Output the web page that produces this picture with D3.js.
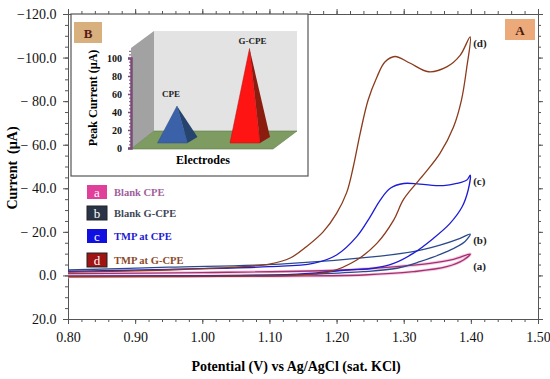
<!DOCTYPE html>
<html>
<head>
<meta charset="utf-8">
<script src="https://cdn.jsdelivr.net/npm/d3@7"></script>
<style>
  body { margin: 0; background: #fff; }
  svg { display: block; font-family: "Liberation Serif", "Times New Roman", serif; }
  svg g, svg text { font-family: "Liberation Serif", "Times New Roman", serif; }
</style>
</head>
<body>
<div id="chart"></div>
<script>
// cyclic voltammograms, [potential V, current uA], forward scan then reverse
const curveA = [[0.80,-0.8],[1.00,-1.3],[1.215,-2.5],[1.29,-4.0],[1.339,-5.5],[1.374,-7.4],[1.399,-9.8],
  [1.389,-7.1],[1.364,-4.0],[1.314,-1.7],[1.24,-0.2],[1.116,0.3],[0.80,0.6]];
const curveB = [[0.80,-2.5],[0.95,-3.8],[1.116,-5.2],[1.265,-8.9],[1.314,-10.9],[1.354,-13.9],[1.384,-17.0],[1.399,-19.0],
  [1.391,-15.5],[1.364,-10.9],[1.324,-6.3],[1.29,-3.3],[1.24,-1.7],[1.165,-0.6],[1.116,-0.2],[1.00,0.1],[0.80,0.3]];
const curveC = [[0.80,-1.8],[0.95,-2.8],[1.10,-4.0],[1.165,-5.5],[1.20,-9.4],[1.23,-17.8],[1.25,-26.9],[1.265,-34.6],
  [1.28,-40.0],[1.30,-42.2],[1.324,-41.9],[1.359,-41.2],[1.379,-42.2],[1.394,-43.8],[1.399,-46.0],
  [1.396,-39.2],[1.387,-31.5],[1.369,-23.9],[1.344,-17.0],[1.314,-10.1],[1.285,-5.5],[1.255,-3.3],[1.215,-2.5],
  [1.165,-1.0],[1.116,-0.2],[1.00,0.2],[0.80,0.4]];
const curveD = [[0.80,-1.5],[0.95,-2.5],[1.05,-3.8],[1.10,-5.2],[1.131,-8.0],[1.155,-13.2],[1.18,-20.0],[1.20,-28.5],
  [1.215,-38.0],[1.225,-50.0],[1.235,-65.0],[1.247,-80.5],[1.26,-91.0],[1.272,-98.0],[1.287,-100.5],[1.309,-97.5],
  [1.337,-93.5],[1.364,-95.7],[1.384,-101.0],[1.399,-109.5],
  [1.394,-95.7],[1.386,-80.5],[1.374,-68.0],[1.354,-56.0],[1.329,-46.0],[1.30,-35.0],[1.285,-25.4],[1.26,-14.7],
  [1.23,-7.1],[1.19,-1.7],[1.14,-0.2],[1.00,0.3],[0.80,0.5]];

const curveKeys = ["a", "b", "c", "d"];
const curveNames = ["Blank CPE", "Blank G-CPE", "TMP at CPE", "TMP at G-CPE"];
const xTicks = [0.80, 0.90, 1.00, 1.10, 1.20, 1.30, 1.40, 1.50];
const yTicks = [-120, -100, -80, -60, -40, -20, 0, 20];

// inset B
const electrodes = ["CPE", "G-CPE"];
const peakCurrent = [41, 105];
const insetTicks = [0, 20, 40, 60, 80, 100];

const curves = [curveA, curveB, curveC, curveD];
const lineColors = ["#a3306f", "#2c4a8a", "#1c1cd6", "#8b3a1c"];
const boxColors = ["#e0409a", "#2a3448", "#1010e0", "#a01414"];
const textColors = ["#a0609a", "#404656", "#2020d0", "#8a4a2a"];

const W = 550, H = 379;
const serif = '"Liberation Serif", "Times New Roman", serif';
const svg = d3.select("#chart").append("svg").attr("width", W).attr("height", H);

const x = d3.scaleLinear().domain([0.8, 1.5]).range([68, 538]);
const y = d3.scaleLinear().domain([-120, 20]).range([14, 319]);

const axisColor = "#555";

function drawAxis(gen, tr, major, minor, labels) {
  const gMin = svg.append("g").attr("transform", tr)
    .call(gen(major.scale).tickValues(minor).tickSize(3).tickFormat(""));
  gMin.select(".domain").remove();
  const g = svg.append("g").attr("transform", tr)
    .call(gen(major.scale).tickValues(major.values).tickSize(5).tickFormat(labels || ""));
  g.attr("font-family", serif);
  g.selectAll("line, path").attr("stroke", axisColor);
  gMin.selectAll("line").attr("stroke", axisColor);
  g.selectAll("text").attr("font-family", serif).attr("font-size", 14).attr("fill", "#111");
  return g;
}

const xMinor = d3.range(0.8, 1.5001, 0.02);
const yMinor = d3.range(-120, 20.001, 5);

const gx = drawAxis(d3.axisBottom, "translate(0,319)", {scale: x, values: xTicks}, xMinor, d => d.toFixed(2));
gx.selectAll("text").attr("dy", "1.05em");
drawAxis(d3.axisTop, "translate(0,14)", {scale: x, values: xTicks}, xMinor, null);
const gy = drawAxis(d3.axisLeft, "translate(68,0)", {scale: y, values: yTicks}, yMinor, d => {
  if (d < 0) return (d <= -100 ? "\u2212" : "\u2212 ") + Math.abs(d).toFixed(1);
  return d.toFixed(1);
});
gy.selectAll("text").attr("dx", "-0.25em");
drawAxis(d3.axisRight, "translate(538,0)", {scale: y, values: yTicks}, yMinor, null);

// axis titles
svg.append("text").attr("x", 296).attr("y", 371).attr("text-anchor", "middle")
  .attr("font-size", 14).attr("font-weight", "bold").text("Potential (V) vs Ag/AgCl (sat. KCl)");
svg.append("text").attr("transform", "translate(17,168) rotate(-90)").attr("text-anchor", "middle")
  .attr("font-size", 14).attr("font-weight", "bold").attr("xml:space", "preserve").text("Current  (\u00b5A)");

// curves
const line = d3.line().x(d => x(d[0])).y(d => y(d[1])).curve(d3.curveCatmullRom.alpha(0.5));
svg.append("path").datum(curveA).attr("d", line).attr("fill", "none")
  .attr("stroke", "#f6cde6").attr("stroke-width", 3.2);
curves.forEach((c, i) => {
  svg.append("path").datum(c).attr("d", line).attr("fill", "none")
    .attr("stroke", lineColors[i]).attr("stroke-width", 1.3);
});

// curve labels at the vertex
curves.forEach((c, i) => {
  const v = c.reduce((m, p) => p[0] > m[0] ? p : m);
  const off = [8, 2, 2, 2][i];
  svg.append("text").attr("x", x(v[0]) + 3).attr("y", y(v[1]) + off + 8)
    .attr("font-size", 11).attr("font-weight", "bold").attr("fill", "#222")
    .text("(" + curveKeys[i] + ")");
});

// legend
const legY = [185, 206, 229, 253];
curveKeys.forEach((k, i) => {
  svg.append("rect").attr("x", 87).attr("y", legY[i]).attr("width", 20).attr("height", 14)
    .attr("fill", boxColors[i]).attr("stroke", i === 1 || i === 3 ? "#222" : "none");
  svg.append("text").attr("x", 97).attr("y", legY[i] + 11.5).attr("text-anchor", "middle")
    .attr("font-size", 13).attr("fill", "#fff").text(k);
  svg.append("text").attr("x", 114).attr("y", legY[i] + 11)
    .attr("font-size", 10.5).attr("font-weight", "bold").attr("fill", textColors[i]).text(curveNames[i]);
});

// label A
svg.append("rect").attr("x", 505).attr("y", 19).attr("width", 30).attr("height", 21).attr("fill", "#eca97a");
svg.append("text").attr("x", 520).attr("y", 35).attr("text-anchor", "middle")
  .attr("font-size", 13).attr("font-weight", "bold").attr("fill", "#4a1a10").text("A");

// ---- inset B ----
const inset = svg.append("g");
inset.append("rect").attr("x", 71).attr("y", 14).attr("width", 237).attr("height", 162)
  .attr("fill", "#fff").attr("stroke", "#555").attr("stroke-width", 1.2);
inset.append("rect").attr("x", 74).attr("y", 22).attr("width", 28).attr("height", 21).attr("fill", "#d8b07e");
inset.append("text").attr("x", 88).attr("y", 38).attr("text-anchor", "middle")
  .attr("font-size", 13).attr("font-weight", "bold").attr("fill", "#5a1a14").text("B");

const yIn = d3.scaleLinear().domain([0, 100]).range([148, 58]);
const depth = [23, -18]; // back offset of the 3d box

// walls and floor
const poly = pts => pts.map(p => p.join(",")).join(" ");
const fx0 = 131, fx1 = 273, fy = yIn(0) + 1, wallTop = 48;
inset.append("polygon").attr("points", poly([[fx0 + depth[0], 31], [fx1 + 24, 31], [fx1 + 24, fy + depth[1]], [fx0 + depth[0], fy + depth[1]]]))
  .attr("fill", "#e3e3e3");
inset.append("polygon").attr("points", poly([[fx0, wallTop], [fx0 + depth[0], 31], [fx0 + depth[0], fy + depth[1]], [fx0, fy]]))
  .attr("fill", "#a2a2a2");
inset.append("polygon").attr("points", poly([[fx0, fy], [fx1, fy], [fx1 + 24, fy + depth[1]], [fx0 + depth[0], fy + depth[1]]]))
  .attr("fill", "#7e9c62").attr("stroke", "#5d7a48").attr("stroke-width", 0.6);

// inset axis
const gIn = inset.append("g").attr("transform", `translate(${fx0},0)`)
  .call(d3.axisLeft(yIn).tickValues(insetTicks).tickSize(3));
gIn.attr("font-family", serif);
gIn.select(".domain").attr("stroke", "#7a4a78").attr("stroke-width", 2.5);
gIn.selectAll("line").attr("stroke", "#7a4a78").attr("stroke-width", 1.5);
gIn.selectAll("text").attr("font-family", serif).attr("font-size", 10).attr("font-weight", "bold").attr("fill", "#111").attr("x", -9);
inset.append("g").attr("transform", `translate(${fx0},0)`)
  .call(d3.axisLeft(yIn).tickValues(d3.range(0, 111, 4)).tickSize(2).tickFormat(""))
  .call(g => g.select(".domain").remove())
  .selectAll("line").attr("stroke", "#7a4a78");

inset.append("text").attr("transform", "translate(97,98) rotate(-90)").attr("text-anchor", "middle")
  .attr("font-size", 12).attr("font-weight", "bold").text("Peak Current (\u00b5A)");
inset.append("text").attr("x", 203).attr("y", 164).attr("text-anchor", "middle")
  .attr("font-size", 12).attr("font-weight", "bold").text("Electrodes");

// pyramids
const xIn = d3.scalePoint().domain(electrodes).range([172.5, 245]);
const frontCol = ["#3b62a8", "#ff1414"];
const sideCol = ["#27446f", "#8b1c10"];
electrodes.forEach((e, i) => {
  const cx = xIn(e);
  const base = 143;
  const apex = [cx + 4.5, yIn(peakCurrent[i]) - 5];
  const fl = [cx - 15, base], fr = [cx + 15, base], br = [cx + 25, base - 6];
  inset.append("polygon").attr("points", poly([fr, br, apex])).attr("fill", sideCol[i]);
  inset.append("polygon").attr("points", poly([fl, fr, apex])).attr("fill", frontCol[i])
    .attr("stroke", i === 1 ? "#b01010" : "#2d4f8a").attr("stroke-width", 0.5);
  inset.append("text").attr("x", apex[0] + (i === 0 ? -6 : 3)).attr("y", apex[1] - (i === 0 ? 9 : 5))
    .attr("text-anchor", "middle").attr("font-size", 9).attr("font-weight", "bold").attr("fill", "#222").text(e);
});
</script>
</body>
</html>
